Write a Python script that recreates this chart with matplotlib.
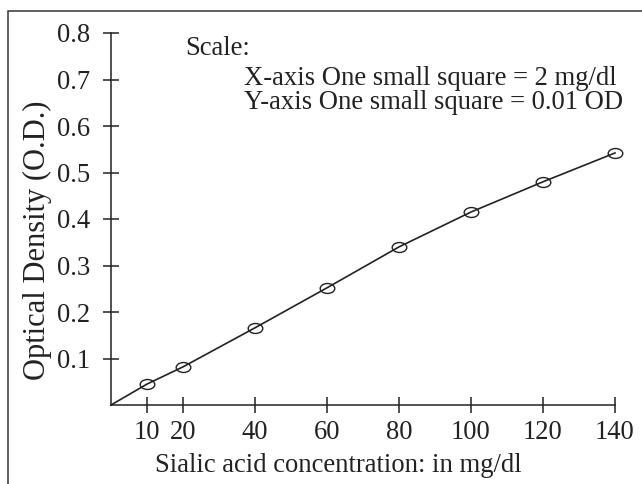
import matplotlib
matplotlib.use("Agg")
import matplotlib.pyplot as plt
from matplotlib.path import Path
from matplotlib.transforms import Affine2D
from matplotlib.patches import Rectangle

# Data
concentration = [10, 20, 40, 60, 80, 100, 120, 140]
optical_density = [0.045, 0.082, 0.166, 0.252, 0.340, 0.415, 0.480, 0.542]
x_ticks = [10, 20, 40, 60, 80, 100, 120, 140]
y_ticks = [0.1, 0.2, 0.3, 0.4, 0.5, 0.6, 0.7, 0.8]
y_tick_labels = ["0.1", "0.2", "0.3", "0.4", "0.5", "0.6", "0.7", "0.8"]
scale_lines = ["Scale:", "X-axis One small square = 2 mg/dl", "Y-axis One small square = 0.01 OD"]

plt.rcParams['font.family'] = ['Liberation Serif', 'Tinos', 'Times New Roman', 'TeX Gyre Termes',
                               'Nimbus Roman', 'STIX Two Text', 'STIXGeneral', 'DejaVu Serif']
FS = 19.2
W, H = 642, 484
fig = plt.figure(figsize=(W / 100, H / 100), dpi=100)

# axes: origin at (111,405) px, x=140 at 615 px, y=0.8 at 33 px
left, right, bottom, top = 111, 615, 405, 33
ax = fig.add_axes([left / W, 1 - bottom / H, (right - left) / W, (bottom - top) / H])
ax.set_xlim(0, 140)
ax.set_ylim(0, 0.8)

for s in ['top', 'right']:
    ax.spines[s].set_visible(False)
for s in ['left', 'bottom']:
    ax.spines[s].set_linewidth(1.1)
    ax.spines[s].set_color('#222222')

ax.set_xticks(x_ticks)
ax.set_xticklabels([str(v) for v in x_ticks])
ax.set_yticks(y_ticks)
ax.set_yticklabels(y_tick_labels)
ax.tick_params(axis='both', direction='inout', length=11, width=1.1, color='#222222',
               labelsize=FS, labelcolor='#222222')
ax.tick_params(axis='x', pad=5.5)
ax.tick_params(axis='y', pad=9.5)

# ellipse marker
ellipse = Path.unit_circle().transformed(Affine2D().scale(1.0, 0.68))

ax.plot([0] + concentration, [0] + optical_density, color='#222222', lw=1.2,
        clip_on=False, zorder=3)
ax.plot(concentration, optical_density, linestyle='none', marker=ellipse,
        markersize=10.5, markerfacecolor='none', markeredgecolor='#222222',
        markeredgewidth=1.0, clip_on=False, zorder=4)

ax.set_xlabel("Sialic acid concentration: in mg/dl", fontsize=FS, color='#222222')
ax.xaxis.label.set_va('baseline')
ax.xaxis.set_label_coords((338 - left) / (right - left), -(472 - bottom) / (bottom - top))
ax.set_ylabel("Optical Density (O.D.)", fontsize=22, color='#222222')
ax.yaxis.label.set_va('center')
ax.yaxis.set_label_coords(-(left - 37) / (right - left), (bottom - 240) / (bottom - top))

# scale annotation
fig.text(185 / W, 1 - 55 / H, scale_lines[0], fontsize=FS, va='baseline', ha='left', color='#222222')
fig.text(244 / W, 1 - 85 / H, scale_lines[1], fontsize=FS, va='baseline', ha='left', color='#222222')
fig.text(244 / W, 1 - 109 / H, scale_lines[2], fontsize=FS, va='baseline', ha='left', color='#222222')

# figure border
fig.patches.append(Rectangle((8 / W, -0.05), 1.1, 1 - 11 / H + 0.05, transform=fig.transFigure,
                             fill=False, edgecolor='#333333', lw=1.1, clip_on=False))

fig.savefig("out.png", dpi=100)
